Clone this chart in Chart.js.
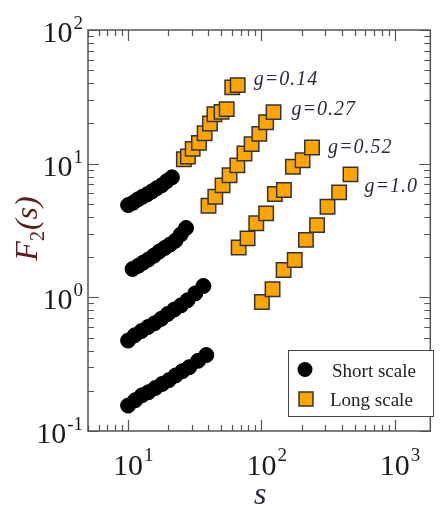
<!DOCTYPE html>
<html>
<head>
<meta charset="utf-8">
<script src="https://cdn.jsdelivr.net/npm/chart.js@4.4.1/dist/chart.umd.min.js"></script>
<style>
  html, body { margin: 0; padding: 0; background: #fff; }
  #wrap { width: 442px; height: 510px; position: relative; }
</style>
</head>
<body>
<div id="wrap"><canvas id="f2Chart" width="442" height="510"></canvas></div>
<script>
// Short scale fluctuation function, four curves (s, F2)
const short1S = [10, 10.9, 11.8, 12.8, 13.9, 15.1, 16.4, 17.9, 19.5, 21.3];
const short1F = [4.9, 5.1, 5.4, 5.65, 5.9, 6.2, 6.55, 6.9, 7.4, 7.9];
const short2S = [10.8, 11.9, 13.0, 14.2, 15.6, 17.1, 18.8, 20.6, 22.6, 24.8, 27.2];
const short2F = [1.63, 1.72, 1.82, 1.92, 2.05, 2.2, 2.34, 2.48, 2.65, 2.95, 3.3];
const short3S = [10, 11.2, 12.6, 14.1, 15.8, 17.7, 19.8, 22.2, 24.9, 27.9, 31.9, 36.7];
const short3F = [0.475, 0.52, 0.56, 0.6, 0.64, 0.69, 0.75, 0.81, 0.87, 0.95, 1.07, 1.215];
const short4S = [10, 11.3, 12.7, 14.2, 16.0, 18.0, 20.2, 22.7, 25.5, 28.7, 33.5, 38.6];
const short4F = [0.155, 0.17, 0.185, 0.195, 0.21, 0.225, 0.24, 0.26, 0.28, 0.3, 0.335, 0.37];

// Long scale, one curve per g
const gLabels = ['g=0.14', 'g=0.27', 'g=0.52', 'g=1.0'];
const long1S = [26.2, 28.1, 30.5, 34.0, 37.5, 41.1, 44.4, 50.2, 54.9, 60.4, 66.4];
const long1F = [10.8, 11.3, 12.9, 14.3, 16.9, 20.0, 23.4, 24.4, 25.6, 37.2, 38.7];
const long2S = [40.1, 45.1, 51.1, 57.7, 66.0, 74.6, 84.4, 96.5, 108.5, 123.3];
const long2F = [4.84, 5.65, 6.88, 8.18, 9.71, 11.9, 14.0, 16.7, 20.4, 24.3];
const long3S = [67.5, 78.7, 91.5, 108.5, 126.2, 147.5, 172.4, 203.7, 239.7];
const long3F = [2.36, 2.76, 3.58, 4.25, 5.93, 6.35, 9.48, 10.6, 13.2];
const long4S = [100.8, 121.2, 146.7, 177.8, 215.8, 261.5, 313.3, 383.1, 466.0];
const long4F = [0.922, 1.15, 1.60, 1.90, 2.69, 3.47, 4.76, 6.10, 8.32];

const xDecades = [1, 2, 3];
const yDecades = [-1, 0, 1, 2];
const legendLabels = ['Short scale', 'Long scale'];

const SERIF = '"Liberation Serif", "Times New Roman", serif';
const ORANGE = '#ffa500';
const AXIS = '#555555';

function pts(xs, ys) {
    return xs.map((x, i) => ({ x: x, y: ys[i] }));
}

const shortSets = [[short1S, short1F], [short2S, short2F], [short3S, short3F], [short4S, short4F]];
const longSets = [[long1S, long1F], [long2S, long2F], [long3S, long3F], [long4S, long4F]];

const datasets = [];
shortSets.forEach(([xs, ys]) => {
    datasets.push({
        data: pts(xs, ys),
        pointStyle: 'circle',
        pointRadius: 7.5,
        backgroundColor: '#000',
        borderColor: '#000',
        borderWidth: 1,
        showLine: false
    });
});
longSets.forEach(([xs, ys]) => {
    datasets.push({
        data: pts(xs, ys),
        pointStyle: 'rect',
        pointRadius: 10.2,
        backgroundColor: ORANGE,
        borderColor: '#333',
        borderWidth: 1.5,
        showLine: false
    });
});

// label offsets (px) from the last point of each long-scale curve
const gOffsets = [[16, 0], [18, 3], [16, 5], [14, 18]];

// frame, inward ticks, tick labels, titles, legend
const framePlugin = {
    id: 'frame',
    afterDatasetsDraw(chart) {
        const ctx = chart.ctx;
        const a = chart.chartArea;
        const xs = chart.scales.x;
        const ys = chart.scales.y;
        ctx.save();

        ctx.strokeStyle = AXIS;
        ctx.lineWidth = 1.5;
        ctx.strokeRect(a.left, a.top, a.right - a.left, a.bottom - a.top);

        ctx.lineWidth = 1.2;
        ctx.beginPath();
        // x ticks
        for (let d = 0; d <= 3; d++) {
            for (let m = 1; m <= 9; m++) {
                const v = m * Math.pow(10, d);
                if (v < xs.min || v > xs.max) continue;
                const px = Math.round(xs.getPixelForValue(v)) + 0.5;
                const len = m === 1 ? 11 : 6;
                ctx.moveTo(px, a.bottom); ctx.lineTo(px, a.bottom - len);
                ctx.moveTo(px, a.top); ctx.lineTo(px, a.top + len);
            }
        }
        // y ticks
        for (let d = -1; d <= 2; d++) {
            for (let m = 1; m <= 9; m++) {
                const v = m * Math.pow(10, d);
                if (v < ys.min - 1e-9 || v > ys.max + 1e-9) continue;
                const py = Math.round(ys.getPixelForValue(v)) + 0.5;
                const len = m === 1 ? 11 : 6;
                ctx.moveTo(a.left, py); ctx.lineTo(a.left + len, py);
                ctx.moveTo(a.right, py); ctx.lineTo(a.right - len, py);
            }
        }
        ctx.stroke();

        // tick labels 10^n
        ctx.fillStyle = '#1a1a1a';
        ctx.textBaseline = 'alphabetic';
        xDecades.forEach(n => {
            const px = xs.getPixelForValue(Math.pow(10, n));
            ctx.font = '30px ' + SERIF;
            ctx.textAlign = 'center';
            ctx.fillText('10', px, a.bottom + 44);
            const w = ctx.measureText('10').width;
            ctx.font = '19px ' + SERIF;
            ctx.textAlign = 'left';
            ctx.fillText(String(n), px + w / 2 + 1, a.bottom + 30);
        });
        yDecades.forEach(n => {
            const py = ys.getPixelForValue(Math.pow(10, n));
            const exp = n < 0 ? '-' + Math.abs(n) : String(n);
            ctx.font = '19px ' + SERIF;
            ctx.textAlign = 'right';
            const ew = ctx.measureText(exp).width;
            ctx.fillText(exp, a.left - 5, py - 1);
            ctx.font = '30px ' + SERIF;
            ctx.fillText('10', a.left - 6 - ew, py + 12);
        });

        // axis titles
        ctx.fillStyle = '#2a2a3c';
        ctx.font = 'italic 32px ' + SERIF;
        ctx.textAlign = 'center';
        ctx.fillText('s', (a.left + a.right) / 2 + 1, 504);

        ctx.save();
        ctx.translate(37, 229);
        ctx.rotate(-Math.PI / 2);
        ctx.fillStyle = '#5a1e1e';
        ctx.textAlign = 'left';
        ctx.font = 'italic 32px ' + SERIF;
        const fw = ctx.measureText('F').width;
        ctx.font = '20px ' + SERIF;
        const tw = ctx.measureText('2').width;
        ctx.font = 'italic 32px ' + SERIF;
        const rw = ctx.measureText('(s)').width;
        let x0 = -(fw + tw + rw) / 2;
        ctx.fillText('F', x0, 0);
        ctx.font = '20px ' + SERIF;
        ctx.fillText('2', x0 + fw, 7);
        ctx.font = 'italic 32px ' + SERIF;
        ctx.fillText('(s)', x0 + fw + tw + 1, 0);
        ctx.restore();

        // g labels next to each long-scale curve
        ctx.fillStyle = '#2a2a3a';
        ctx.font = 'italic 20px ' + SERIF;
        ctx.textAlign = 'left';
        if ('letterSpacing' in ctx) ctx.letterSpacing = '1px';
        longSets.forEach(([sx, sy], i) => {
            const k = sx.length - 1;
            const px = xs.getPixelForValue(sx[k]);
            const py = ys.getPixelForValue(sy[k]);
            ctx.fillText(gLabels[i], px + gOffsets[i][0], py + gOffsets[i][1]);
        });
        if ('letterSpacing' in ctx) ctx.letterSpacing = '0px';

        // legend box
        ctx.fillStyle = '#fff';
        ctx.fillRect(288.5, 350.5, 145, 66);
        ctx.strokeStyle = '#444';
        ctx.lineWidth = 1;
        ctx.strokeRect(288.5, 350.5, 145, 66);
        ctx.fillStyle = '#000';
        ctx.beginPath();
        ctx.arc(305, 369.5, 7.5, 0, Math.PI * 2);
        ctx.fill();
        ctx.fillStyle = ORANGE;
        ctx.fillRect(299, 392, 14, 14);
        ctx.strokeStyle = '#333';
        ctx.lineWidth = 1.5;
        ctx.strokeRect(299, 392, 14, 14);
        ctx.fillStyle = '#222';
        ctx.font = '19px ' + SERIF;
        ctx.fillText(legendLabels[0], 332, 377);
        ctx.fillText(legendLabels[1], 330, 406);

        ctx.restore();
    }
};

new Chart(document.getElementById('f2Chart'), {
    type: 'scatter',
    data: { datasets: datasets },
    options: {
        responsive: false,
        animation: false,
        layout: { padding: { left: 88, top: 30, right: 1, bottom: 79 } },
        plugins: { legend: { display: false }, tooltip: { enabled: false } },
        scales: {
            x: { type: 'logarithmic', min: 5, max: 1850, display: false },
            y: { type: 'logarithmic', min: 0.1, max: 100, display: false }
        }
    },
    plugins: [framePlugin]
});
</script>
</body>
</html>
